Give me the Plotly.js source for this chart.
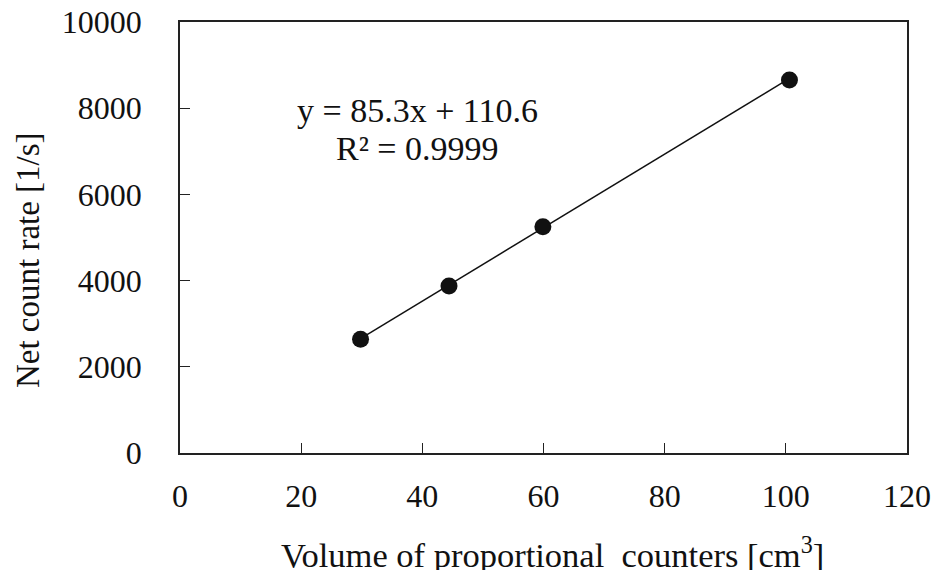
<!DOCTYPE html>
<html>
<head>
<meta charset="utf-8">
<script src="https://cdn.plot.ly/plotly-3.0.1.min.js"></script>
<style>html,body{margin:0;padding:0;background:#fff;}#chart{width:935px;height:570px;}</style>
</head>
<body>
<div id="chart"></div>
<script>
// Data
const volume = [29.8, 44.4, 59.9, 100.6];          // cm^3
const netCountRate = [2640, 3875, 5250, 8655];     // 1/s
const fitSlope = 85.3;
const fitIntercept = 110.6;
const fitR2 = "0.9999";
const xTicks = [0, 20, 40, 60, 80, 100, 120];
const yTicks = [0, 2000, 4000, 6000, 8000, 10000];
const xTitle = 'Volume of proportional  counters [cm<sup>3</sup>]';
const yTitle = 'Net count rate [1/s]';

const xMin = Math.min(...volume), xMax = Math.max(...volume);
const fitX = [xMin, xMax];
const fitY = fitX.map(v => fitSlope * v + fitIntercept);

const SERIF = 'serif';

const traces = [
  {x: fitX, y: fitY, mode: 'lines', type: 'scatter',
   line: {color: '#111', width: 1.5}, hoverinfo: 'skip', showlegend: false},
  {x: volume, y: netCountRate, mode: 'markers', type: 'scatter',
   marker: {color: '#111', size: 17}, showlegend: false}
];

const axisCommon = {
  showgrid: false, zeroline: false, showline: true, linecolor: '#222', linewidth: 1.5,
  mirror: true, ticks: 'inside', ticklen: 10, tickwidth: 1.2, tickcolor: '#222',
  tickfont: {family: SERIF, size: 32}
};

const layout = {
  width: 935, height: 570,
  margin: {l: 180, r: 28, t: 22, b: 117},
  paper_bgcolor: '#fff', plot_bgcolor: '#fff',
  font: {family: SERIF, color: '#111'},
  xaxis: Object.assign({}, axisCommon, {
    range: [0, 120], tickvals: xTicks, ticktext: xTicks.map(String),
    ticklabelstandoff: 14
  }),
  yaxis: Object.assign({}, axisCommon, {
    range: [0, 10000], tickvals: yTicks, ticktext: yTicks.map(String),
    ticklabelstandoff: 30
  }),
  annotations: [
    {x: 39.2, y: 7945, xref: 'x', yref: 'y', showarrow: false,
     text: 'y = ' + fitSlope + 'x + ' + fitIntercept,
     font: {family: SERIF, size: 34}, xanchor: 'center', yanchor: 'middle'},
    {x: 39.2, y: 7060, xref: 'x', yref: 'y', showarrow: false,
     text: 'R² = ' + fitR2,
     font: {family: SERIF, size: 34}, xanchor: 'center', yanchor: 'middle'},
    {x: 0.5117, y: -0.232, xref: 'paper', yref: 'paper', showarrow: false,
     text: xTitle, font: {family: SERIF, size: 34.5}, xanchor: 'center', yanchor: 'middle'},
    {x: -0.209, y: 0.4478, xref: 'paper', yref: 'paper', showarrow: false, textangle: -90,
     text: yTitle, font: {family: SERIF, size: 33}, xanchor: 'center', yanchor: 'middle'}
  ]
};

Plotly.newPlot('chart', traces, layout, {displayModeBar: false});
</script>
</body>
</html>
